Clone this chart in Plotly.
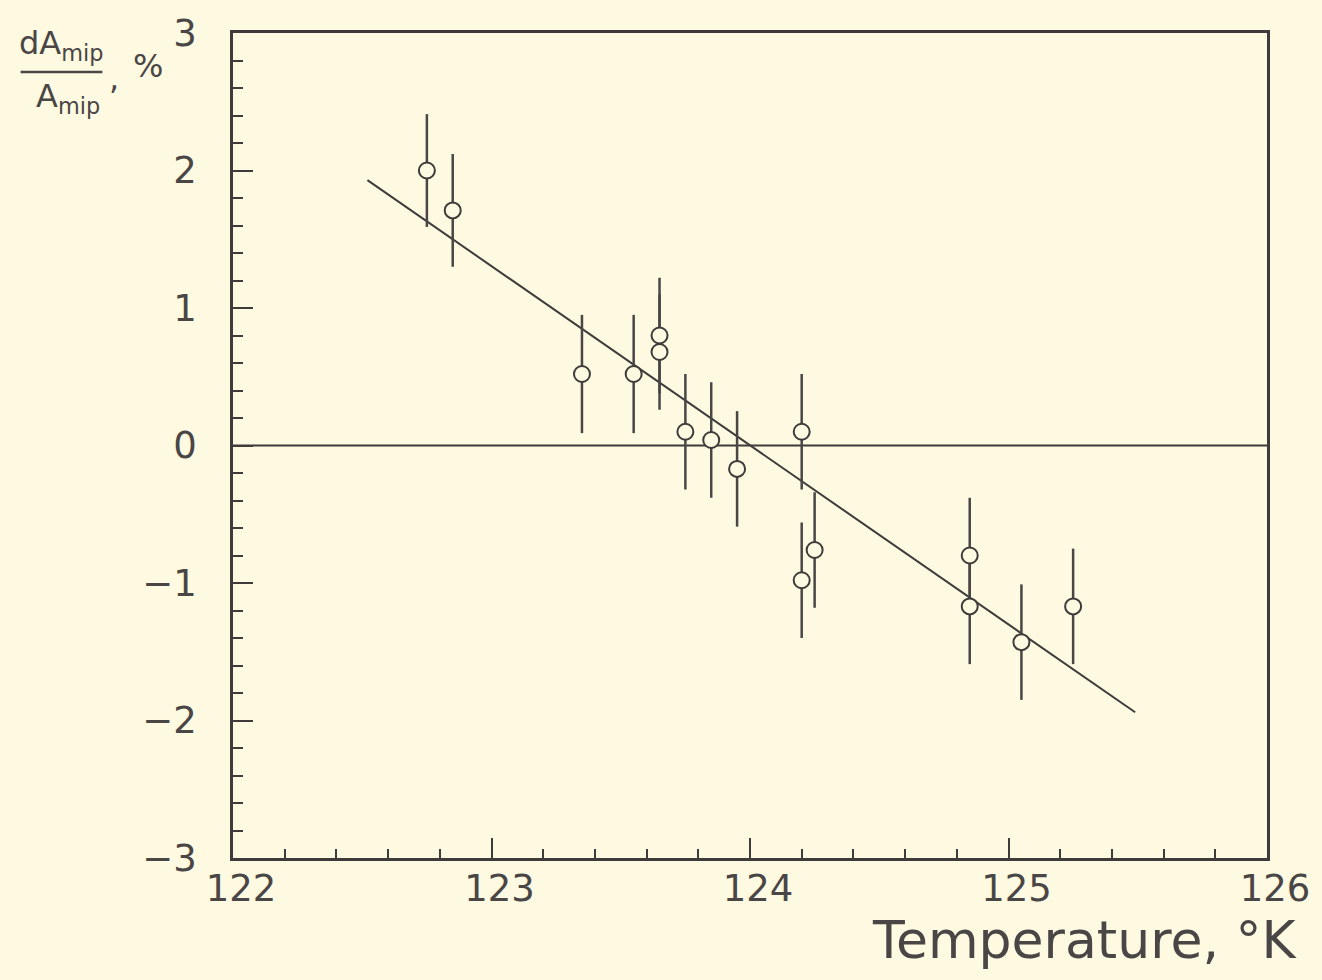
import plotly.graph_objects as go

# Data
temperature = [122.75, 122.85, 123.35, 123.55, 123.65, 123.65, 123.75, 123.85,
               123.95, 124.20, 124.20, 124.25, 124.85, 124.85, 125.05, 125.25]
dA_over_A = [2.00, 1.71, 0.52, 0.52, 0.80, 0.68, 0.10, 0.04,
             -0.17, 0.10, -0.98, -0.76, -0.80, -1.17, -1.43, -1.17]
err = [0.41, 0.41, 0.43, 0.43, 0.42, 0.42, 0.42, 0.42,
       0.42, 0.42, 0.42, 0.42, 0.42, 0.42, 0.42, 0.42]
fit_x = [122.52, 125.49]
fit_y = [1.93, -1.94]
x_ticks = [122, 123, 124, 125, 126]
y_ticks = [-3, -2, -1, 0, 1, 2, 3]
y_tick_text = ["\u22123", "\u22122", "\u22121", "0", "1", "2", "3"]

W, H = 1322, 980
L, R, T, B = 233, 1270, 31, 858
BG = "#FDFAE1"
INK = "#3e3b3a"
TXT = "#4a4646"
FONT = "DejaVu Sans"


def px(x, y):
    return (x - L) / (R - L), (B - y) / (B - T)


fig = go.Figure()

fig.add_trace(go.Scatter(
    x=[122, 126], y=[0, 0], mode="lines",
    line=dict(color=INK, width=2), hoverinfo="skip", showlegend=False))

fig.add_trace(go.Scatter(
    x=fit_x, y=fit_y, mode="lines",
    line=dict(color=INK, width=2), showlegend=False))

fig.add_trace(go.Scatter(
    x=temperature, y=dA_over_A, mode="markers",
    marker=dict(symbol="circle", size=16, color=BG,
                line=dict(color=INK, width=2)),
    error_y=dict(type="data", array=err, visible=True,
                 thickness=2.5, width=0, color="#4a4646"),
    showlegend=False))

axis_common = dict(
    showline=True, linecolor=INK, linewidth=2.5, mirror=True,
    showgrid=False, zeroline=False, ticks="inside", tickcolor=INK,
    tickwidth=2, ticklen=20,
    tickfont=dict(family=FONT, size=37, color=TXT),
)

fig.update_xaxes(
    range=[122, 126], tickmode="array", tickvals=x_ticks,
    ticktext=[str(v) for v in x_ticks],
    minor=dict(dtick=0.2, ticks="inside", ticklen=9, tickwidth=2,
               tickcolor=INK, showgrid=False),
    ticklabelstandoff=-4, ticklabelshift=8,
    **axis_common)
fig.update_yaxes(
    range=[-3, 3], tickmode="array", tickvals=y_ticks, ticktext=y_tick_text,
    minor=dict(dtick=0.2, ticks="inside", ticklen=10, tickwidth=2,
               tickcolor=INK, showgrid=False),
    ticklabelstandoff=26,
    **axis_common)

ann = []
# x-axis title
xp, yp = px(1302, 940)
ann.append(dict(x=xp, y=yp, xref="paper", yref="paper", xanchor="right",
                yanchor="middle", showarrow=False, text="Temperature, \u00b0K",
                font=dict(family=FONT, size=52, color=TXT)))
# y-axis title: fraction dA_mip / A_mip, %
xp, yp = px(60, 43)
ann.append(dict(x=xp, y=yp, xref="paper", yref="paper", xanchor="center",
                yanchor="middle", showarrow=False,
                text="dA<sub>mip</sub>",
                font=dict(family=FONT, size=32, color=TXT)))
xp, yp = px(68, 96)
ann.append(dict(x=xp, y=yp, xref="paper", yref="paper", xanchor="center",
                yanchor="middle", showarrow=False,
                text="A<sub>mip</sub>",
                font=dict(family=FONT, size=32, color=TXT)))
xp, yp = px(114, 76)
ann.append(dict(x=xp, y=yp, xref="paper", yref="paper", xanchor="center",
                yanchor="middle", showarrow=False,
                text=",",
                font=dict(family=FONT, size=32, color=TXT)))
xp, yp = px(148, 64)
ann.append(dict(x=xp, y=yp, xref="paper", yref="paper", xanchor="center",
                yanchor="middle", showarrow=False,
                text="%",
                font=dict(family=FONT, size=32, color=TXT)))

x0, y0 = px(20, 70)
x1, _ = px(102, 70)
shapes = [dict(type="line", xref="paper", yref="paper", x0=x0, x1=x1,
               y0=y0, y1=y0, line=dict(color=TXT, width=2.5))]

fig.update_layout(
    width=W, height=H,
    margin=dict(l=L, r=W - R, t=T, b=H - B),
    paper_bgcolor=BG, plot_bgcolor=BG,
    annotations=ann, shapes=shapes,
    showlegend=False,
)

fig.write_html(
    "out.html",
    config={"displayModeBar": False},
    post_script="document.body.style.margin='0';"
                "document.body.style.background='" + BG + "';",
)
